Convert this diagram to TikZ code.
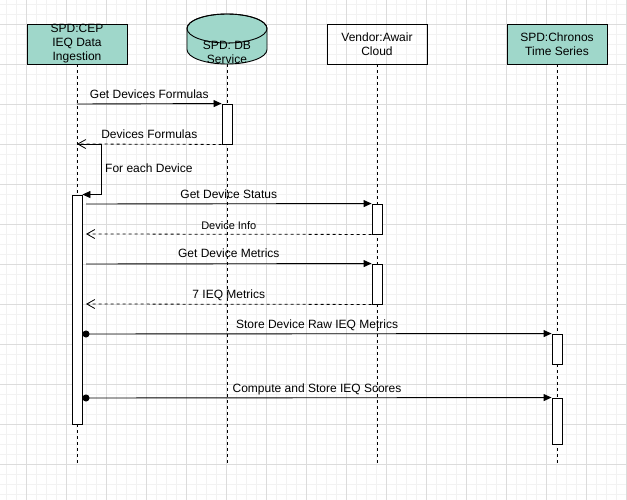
\documentclass[tikz,border=0pt]{standalone}
\usepackage{fontspec}
\setmainfont{Liberation Sans}
\usetikzlibrary{positioning,arrows.meta}
\definecolor{tealbox}{HTML}{9FD7CA}
\definecolor{gridminor}{HTML}{F2F2F2}
\definecolor{gridmajor}{HTML}{DCDCDC}

\begin{document}
\begin{tikzpicture}[x=1pt, y=-1pt
    , every node/.style={font=\fontsize{12}{14}\selectfont}
    , actor/.style={draw, line width=0.9pt, minimum width=100pt, minimum height=40pt, align=center, inner sep=0pt}
    , lifeline/.style={line width=0.8pt, dash pattern=on 3pt off 3pt}
    , activation/.style={draw, fill=white, line width=0.9pt, minimum width=10pt, inner sep=0pt}
    , call/.style={line width=0.9pt, -{Triangle[length=8pt,width=7pt]}}
    , reply/.style={line width=0.8pt, dash pattern=on 3pt off 3pt, -{Straight Barb[length=8pt,width=9pt]}}
    , async/.style={line width=0.9pt, {Circle[length=7pt]}-{Triangle[length=8pt,width=7pt]}}
    , msg/.style={anchor=base, yshift=5pt}
    ]
    \useasboundingbox[fill=white] (0,0) rectangle (627,500);
    \foreach \gx in {0,...,62}
      \draw[gridminor, line width=0.6pt] ({6.7+10*\gx},0) -- ({6.7+10*\gx},500);
    \foreach \gy in {0,...,49}
      \draw[gridminor, line width=0.6pt] (0,{4+10*\gy}) -- (627,{4+10*\gy});
    \foreach \gx in {0,...,15}
      \draw[gridmajor, line width=0.8pt] ({26.7+40*\gx},0) -- ({26.7+40*\gx},500);
    \foreach \gy in {0,...,11}
      \draw[gridmajor, line width=0.8pt] (0,{24+40*\gy}) -- (627,{24+40*\gy});

    % lifelines
    \coordinate (cepend) at (77,463);
    \coordinate (dbbase) at (227,64);
    \coordinate (dbend) at (227,463);
    \coordinate (awend) at (377,463);
    \coordinate (chend) at (557,463);
    \node[actor, fill=tealbox] (cep) at (77,44) {SPD:CEP\\IEQ Data\\Ingestion};
    \node[actor] (awair) at (377,44) {Vendor:Awair\\Cloud};
    \node[actor, fill=tealbox] (chronos) at (557,44) {SPD:Chronos\\Time Series};
    \draw[lifeline] (cep.south) -- (cepend);
    \draw[lifeline] (dbbase) -- (dbend);
    \draw[lifeline] (awair.south) -- (awend);
    \draw[lifeline] (chronos.south) -- (chend);

    \filldraw[fill=tealbox, line width=0.9pt] (187,28.5) -- (187,49.5)
      arc[start angle=180, end angle=360, x radius=40pt, y radius=14.5pt]
      -- (267,28.5)
      arc[start angle=0, end angle=180, x radius=40pt, y radius=14.5pt] -- cycle;
    \draw[line width=0.9pt] (227,28.5) ellipse[x radius=40pt, y radius=14.5pt];
    \node[align=center, inner sep=0pt] (db) at (227,52.5) {SPD: DB\\Service};

    % activations
    \node[activation, minimum height=40pt] (dbact) at (227,124) {};
    \node[activation, minimum height=229pt] (cepact) at (77,309.5) {};
    \node[activation, minimum height=30pt] (awact1) at (377,219) {};
    \node[activation, minimum height=40pt] (awact2) at (377,284) {};
    \node[activation, minimum height=30pt] (chact1) at (557,349) {};
    \node[activation, minimum height=46pt] (chact2) at (557,421) {};

    % messages
    \coordinate (q1) at (77,104);
    \coordinate (r1) at (77,144);
    \coordinate (q2) at (86,204);
    \coordinate (r2) at (86,234);
    \coordinate (q3) at (86,264);
    \coordinate (r3) at (86,304);
    \coordinate (q4) at (82.5,334);
    \coordinate (q5) at (82.5,398);
    \draw[call] (q1) -- (dbact.north west) node[msg, midway] {Get Devices Formulas};
    \draw[reply] (dbact.south west) -- (r1) node[msg, midway, yshift=1pt] {Devices Formulas};
    \draw[call] (r1) -- ++(24,0) |- (cepact.north east);
    \node[anchor=west, inner sep=0pt] (loop) at (105,168) {For each Device};
    \draw[call] (q2) -- (awact1.north west) node[msg, midway] {Get Device Status};
    \draw[reply] (awact1.south west) -- (r2) node[msg, midway, font=\fontsize{11}{13}\selectfont] {Device Info};
    \draw[call] (q3) -- (awact2.north west) node[msg, midway, yshift=1pt] {Get Device Metrics};
    \draw[reply] (awact2.south west) -- (r3) node[msg, midway, yshift=1pt] {7 IEQ Metrics};
    \draw[async] (q4) -- (chact1.north west) node[msg, midway] {Store Device Raw IEQ Metrics};
    \draw[async] (q5) -- (chact2.north west) node[msg, midway] {Compute and Store IEQ Scores};
  \end{tikzpicture}
\end{document}
